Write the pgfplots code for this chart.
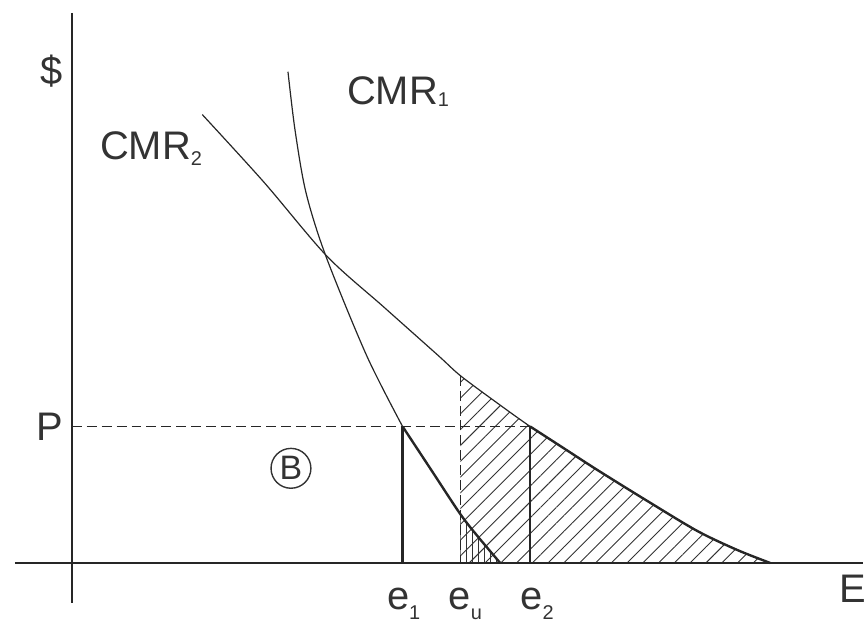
\documentclass[border=0pt]{standalone}
\usepackage{pgfplots}
\pgfplotsset{compat=1.18}
\usepackage{fontspec}
\setmainfont{Liberation Sans}
\usetikzlibrary{patterns.meta}

% positions below are picture pixels: x to the right, y = 624 - pixel row
\newcommand\lab{\fontsize{20}{24}\selectfont}
\newcommand\sub[2]{\raisebox{#1}{\fontsize{10}{10}\selectfont #2}}

\begin{document}
\begin{tikzpicture}
\begin{axis}[
  scale only axis, width=433pt, height=312pt,
  xmin=0, xmax=866, ymin=0, ymax=624,
  axis lines=none, clip=false,
  every axis plot/.append style={black!85},
]
% fixes the page to the full frame
\path (axis cs:0,0) rectangle (axis cs:866,624);

% hatched gain area under CMR2 right of e_u
\addplot[draw=none, pattern={Lines[angle=45,distance=5.6pt,line width=0.45pt]}, pattern color=black!80]
  coordinates {(462,247)(497,221)(532,196)(566,174)(600,152)(650,121)(700,91)(740,72)(773,59)(462,59)} -- cycle;
% small triangle under CMR1 right of e_u
\addplot[draw=none, pattern={Lines[angle=90,distance=3pt,line width=0.45pt]}, pattern color=black!80]
  coordinates {(462,108)(480,85)(502,59)(462,59)} -- cycle;

% axes
\addplot[black!85, line width=1pt] coordinates {(72,611)(72,19)};
\addplot[black!85, line width=1pt] coordinates {(15,59)(866,59)};

% CMR2
\addplot[line width=0.6pt, smooth] coordinates {
  (203,509)(265,441)(328,367)(385,316)(440,267)(462,247)(497,221)(532,196)
  (566,174)(600,152)(650,121)(700,91)(740,72)(773,59)};
\addplot[line width=1.2pt, smooth] coordinates {
  (532,196)(566,174)(600,152)(650,121)(700,91)(740,72)(773,59)};

% CMR1
\addplot[line width=0.6pt, smooth] coordinates {
  (289,552)(296,494)(307,431)(327,367)(368,267)(404,196)};
\addplot[line width=1.2pt, smooth] coordinates {
  (404,196)(433,152)(462,108)(480,85)(502,59)};

% price line and quantities
\addplot[line width=0.8pt, dash pattern=on 5pt off 2.5pt] coordinates {(72,196)(532,196)};
\addplot[line width=0.8pt, dash pattern=on 5pt off 2.5pt] coordinates {(462,247)(462,59)};
\addplot[line width=1.2pt] coordinates {(404,196)(404,59)};
\addplot[line width=1.2pt] coordinates {(532,196)(532,59)};

% labels
\begin{scope}[every node/.style={text=black!80, inner sep=0pt}]
\node[anchor=center] at (axis cs:52,553) {\lab\$};
\node[anchor=base west] at (axis cs:348,519) {\lab CMR\sub{-0.05em}{1}};
\node[anchor=base west] at (axis cs:100,464) {\lab CMR\sub{-0.15em}{2}};
\node[anchor=base west] at (axis cs:36,182) {\lab P};
\node[anchor=base west] at (axis cs:842,19) {\lab E};
\node[anchor=base west] at (axis cs:388,12) {\lab e\sub{-0.25em}{1}};
\node[anchor=base west] at (axis cs:450,12) {\lab e\sub{-0.25em}{u}};
\node[anchor=base west] at (axis cs:522,12) {\lab e\sub{-0.25em}{2}};
\node[draw=black!80, circle, line width=0.7pt, minimum size=20pt] at (axis cs:292,154)
  {\fontsize{17}{17}\selectfont B};
\end{scope}
\end{axis}
\end{tikzpicture}
\end{document}
